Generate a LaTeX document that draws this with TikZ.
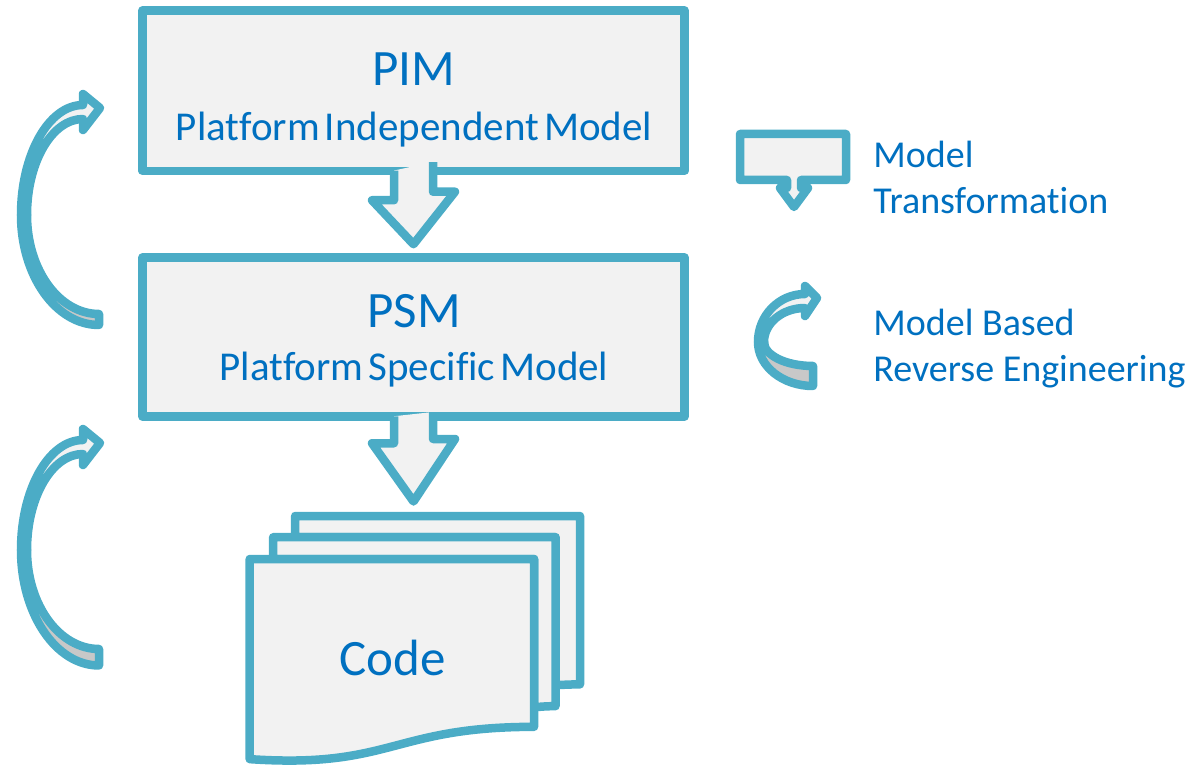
\documentclass[tikz,border=0pt]{standalone}
\usepackage{fontspec}
\setmainfont{Carlito}[Ligatures=NoCommon]
\newfontfamily\tightfont{Carlito}[Ligatures=NoCommon, WordSpace=0.55]
\usetikzlibrary{calc}
\definecolor{edge}{HTML}{4BACC6}
\definecolor{paper}{HTML}{F2F2F2}
\definecolor{shade}{HTML}{C8C8C8}
\definecolor{ink}{HTML}{0070C0}

% downward block arrow: #1 top of shaft, #2 tip, #3 shaft length, #4 head height
\newcommand\blockdown[4]{%
  \fill[paper] (#1) ++(-19.5,0) -- ++(0,#3) -- ++(-22,0) -- (#2)
     -- ++(41.5,-#4) -- ++(-22,0) -- ++(0,-#3) -- cycle;
  \draw[outline] (#1) ++(-19.5,0) -- ++(0,#3) -- ++(-22,0) -- (#2)
     -- ++(41.5,-#4) -- ++(-22,0) -- ++(0,-#3);
}

% curved back arrow on the left: #1 vertical offset, #2 extra tail thickness
\newcommand\sidebend[2]{%
  \begin{scope}[shift={(0,#1)}]
    % lower (shaded) half of the band
    \draw[outline, fill=shade]
      (21,215) .. controls (21,{215+0.5523*(110+#2)}) and (55.9,{325+#2}) .. (99,{325+#2})
      -- (99,314) .. controls (59.2,314) and (27,269.7) .. (27,215) -- cycle;
    % upper (light) half of the band with the head
    \draw[outline, fill=paper]
      (83,105) .. controls (48.8,105) and (21,154.2) .. (21,215)
      -- (27,215) .. controls (27,162) and (52.1,119) .. (83,119)
      -- (83,130) -- (100,108) -- (83,94) -- cycle;
  \end{scope}
}

\begin{document}
\begin{tikzpicture}[x=0.5pt,y=-0.5pt,
  outline/.style={draw=edge, line width=4.25pt, line join=round},
  panel/.style={outline, fill=paper, rectangle, inner sep=0pt, minimum width=271pt},
  title/.style={text=ink, font=\fontsize{25.5}{30}\selectfont, anchor=base, inner sep=0pt},
  subtitle/.style={text=ink, font=\tightfont\fontsize{20.5}{24}\selectfont, anchor=base, inner sep=0pt},
  legend/.style={text=ink, font=\fontsize{19}{23}\selectfont, anchor=base west, inner sep=0pt},
]
\useasboundingbox (0,0) rectangle (1200,770);

% model boxes
\node[panel, minimum height=80.15pt] (pim) at (413.5,90.65) {};
\node[panel, minimum height=79.5pt] (psm) at (413.5,337) {};

\node[title] (pimtitle) at (414,86) {PIM};
\node[subtitle] (pimsub) at (414,140.5) {Platform Independent Model};
\node[title] (psmtitle) at (414,328) {PSM};
\node[subtitle] (psmsub) at (414,380) {Platform Specific Model};

% stack of code pages
\coordinate (stacktop) at (413.5,516);
\draw[outline, fill=paper] (295.15,537.23) -- (295.15,516) -- (580,516) -- (580,684.37)
  .. controls (567.77,684.37) and (555.54,685.25) .. (555.54,685.25) -- (555.54,537.23) -- cycle;
\draw[outline, fill=paper] (273.13,559) -- (273.13,537.23) -- (555.54,537.23) -- (555.54,706.13)
  .. controls (544.8,706.13) and (534.05,707.3) .. (534.05,707.3) -- (534.05,559) -- cycle;
\draw[outline, fill=paper] (249.7,559) -- (534.05,559) -- (534.05,726.84)
  .. controls (391.89,726.84) and (391.89,768.7) .. (249.7,759.13) -- cycle;
\node[title] (code) at (392.5,675) {Code};

% transformation arrows
\coordinate (a1top) at ($(pim.south)+(0,-4.5)$);
\coordinate (a1tip) at ($(psm.north)+(0,-9)$);
\blockdown{a1top}{a1tip}{29.7}{52.5}
\coordinate (a2top) at ($(psm.south)+(0,-4.5)$);
\coordinate (a2tip) at ($(stacktop)+(0,-14.5)$);
\blockdown{a2top}{a2tip}{27}{62.5}

% reverse engineering arrows
\sidebend{0}{0}
\sidebend{335}{5.5}

% legend: model transformation
\draw[outline, fill=paper] (740,134) -- (846,134) -- (846,180) -- (801,180) -- (801,188)
  -- (808,188) -- (794,207) -- (780,188) -- (787,188) -- (787,180) -- (740,180) -- cycle;
\node[legend] (mtlabel) at (873,213.3) {\begin{tabular}[b]{@{}l@{}}Model\\Transformation\end{tabular}};

% legend: reverse engineering
\draw[outline, fill=shade]
  (758,342) .. controls (758,366.3) and (782.6,386) .. (813,386)
  -- (813,366) .. controls (785.9,366) and (764,355.3) .. (764,342) -- cycle;
\draw[outline, fill=paper]
  (805,294) .. controls (779,294) and (758,315.5) .. (758,342)
  -- (764,342) .. controls (764,323.2) and (782.4,308) .. (805,308)
  -- (805,316) -- (817,298) -- (805,286) -- cycle;
\node[legend] (relabel) at (873,381.7) {\begin{tabular}[b]{@{}l@{}}Model Based\\Reverse Engineering\end{tabular}};
\end{tikzpicture}
\end{document}
